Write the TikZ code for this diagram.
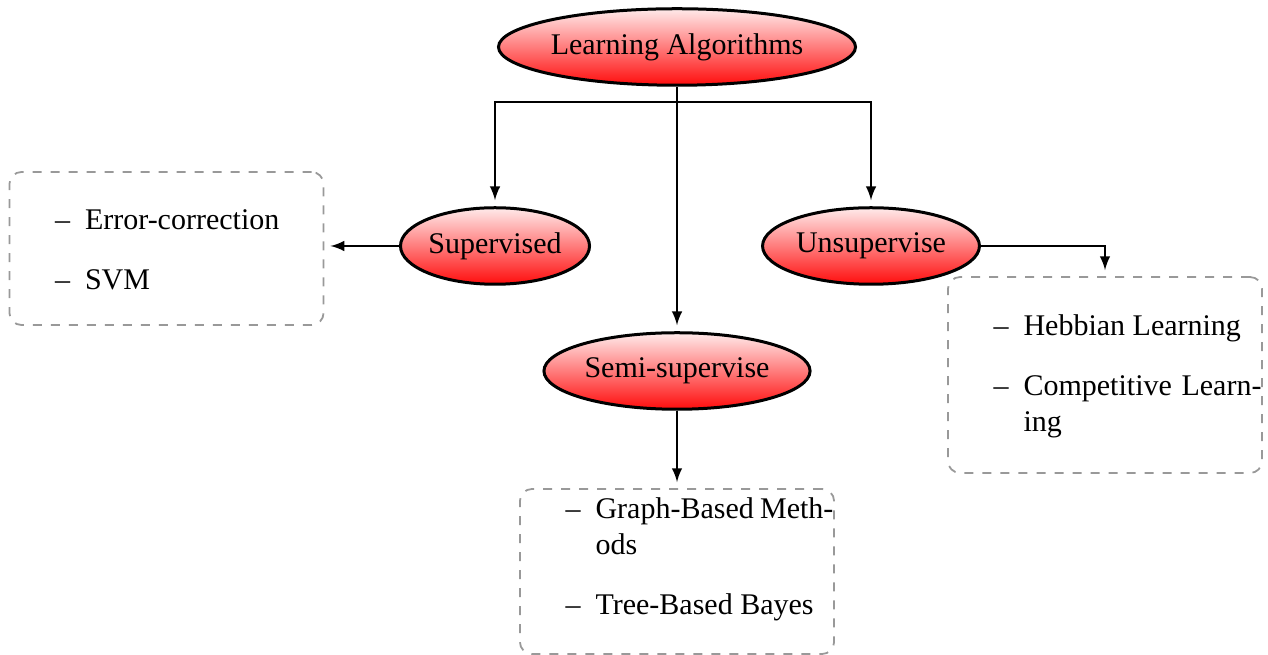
\documentclass[tikz,border=0pt]{standalone}
\usepackage{fontspec}
\setmainfont{Liberation Serif}
\usepackage{tikz}
\usepackage{enumitem}
\usetikzlibrary{shapes.geometric}
\setlist[itemize]{label=\textendash,topsep=0pt,partopsep=0pt}
% height, top gap, items
\newcommand{\boxlist}[3]{\begin{minipage}[c][#1][t]{104.3pt}\vspace*{#2}\begin{itemize}#3\end{itemize}\end{minipage}}

\begin{document}
\begin{tikzpicture}[x=0.3333pt,y=-0.3333pt,
		algo/.style={ellipse,draw,line width=1pt,top color=red!8,bottom color=red!95,inner sep=0pt,minimum height=25.5pt},
		listbox/.style={draw=black!40,dashed,line width=0.6pt,rounded corners=4pt,inner xsep=0.2pt,inner ysep=0pt},
		link/.style={->,>=latex,semithick,shorten >=2pt}]
	\useasboundingbox (0,0) rectangle (1268,655);
	% ellipses
	\node[algo,minimum width=117.7pt] (learn) at (677,47) {Learning Algorithms};
	\node[algo,minimum width=63pt] (sup) at (495,246) {Supervised};
	\node[algo,minimum width=72.3pt] (unsup) at (871,246) {Unsupervise};
	\node[algo,minimum width=88.7pt] (semi) at (677,371) {Semi-supervise};
	% lists
	\node[listbox] (supbox) at (166.5,248.5) {\boxlist{51pt}{12.6pt}{%
		\item Error-correction
		\item SVM}};
	\node[listbox] (unsupbox) at (1105,375) {\boxlist{65.3pt}{12.7pt}{%
		\item Hebbian Learning
		\item Competitive Learning}};
	\node[listbox] (semibox) at (677,571.5) {\boxlist{55pt}{2.8pt}{%
		\item Graph-Based Methods
		\item Tree-Based Bayes}};
	% links
	\coordinate (split) at (677,102);
	\draw[link] (learn.south) -- (semi.north);
	\draw[link] (split) -| (sup.north);
	\draw[link] (split) -| (unsup.north);
	\draw[link] (sup.west) -- (sup.west -| supbox.east);
	\draw[link] (unsup.east) -| (unsupbox.north);
	\draw[link] (semi.south) -- (semibox.north);
\end{tikzpicture}
\end{document}
